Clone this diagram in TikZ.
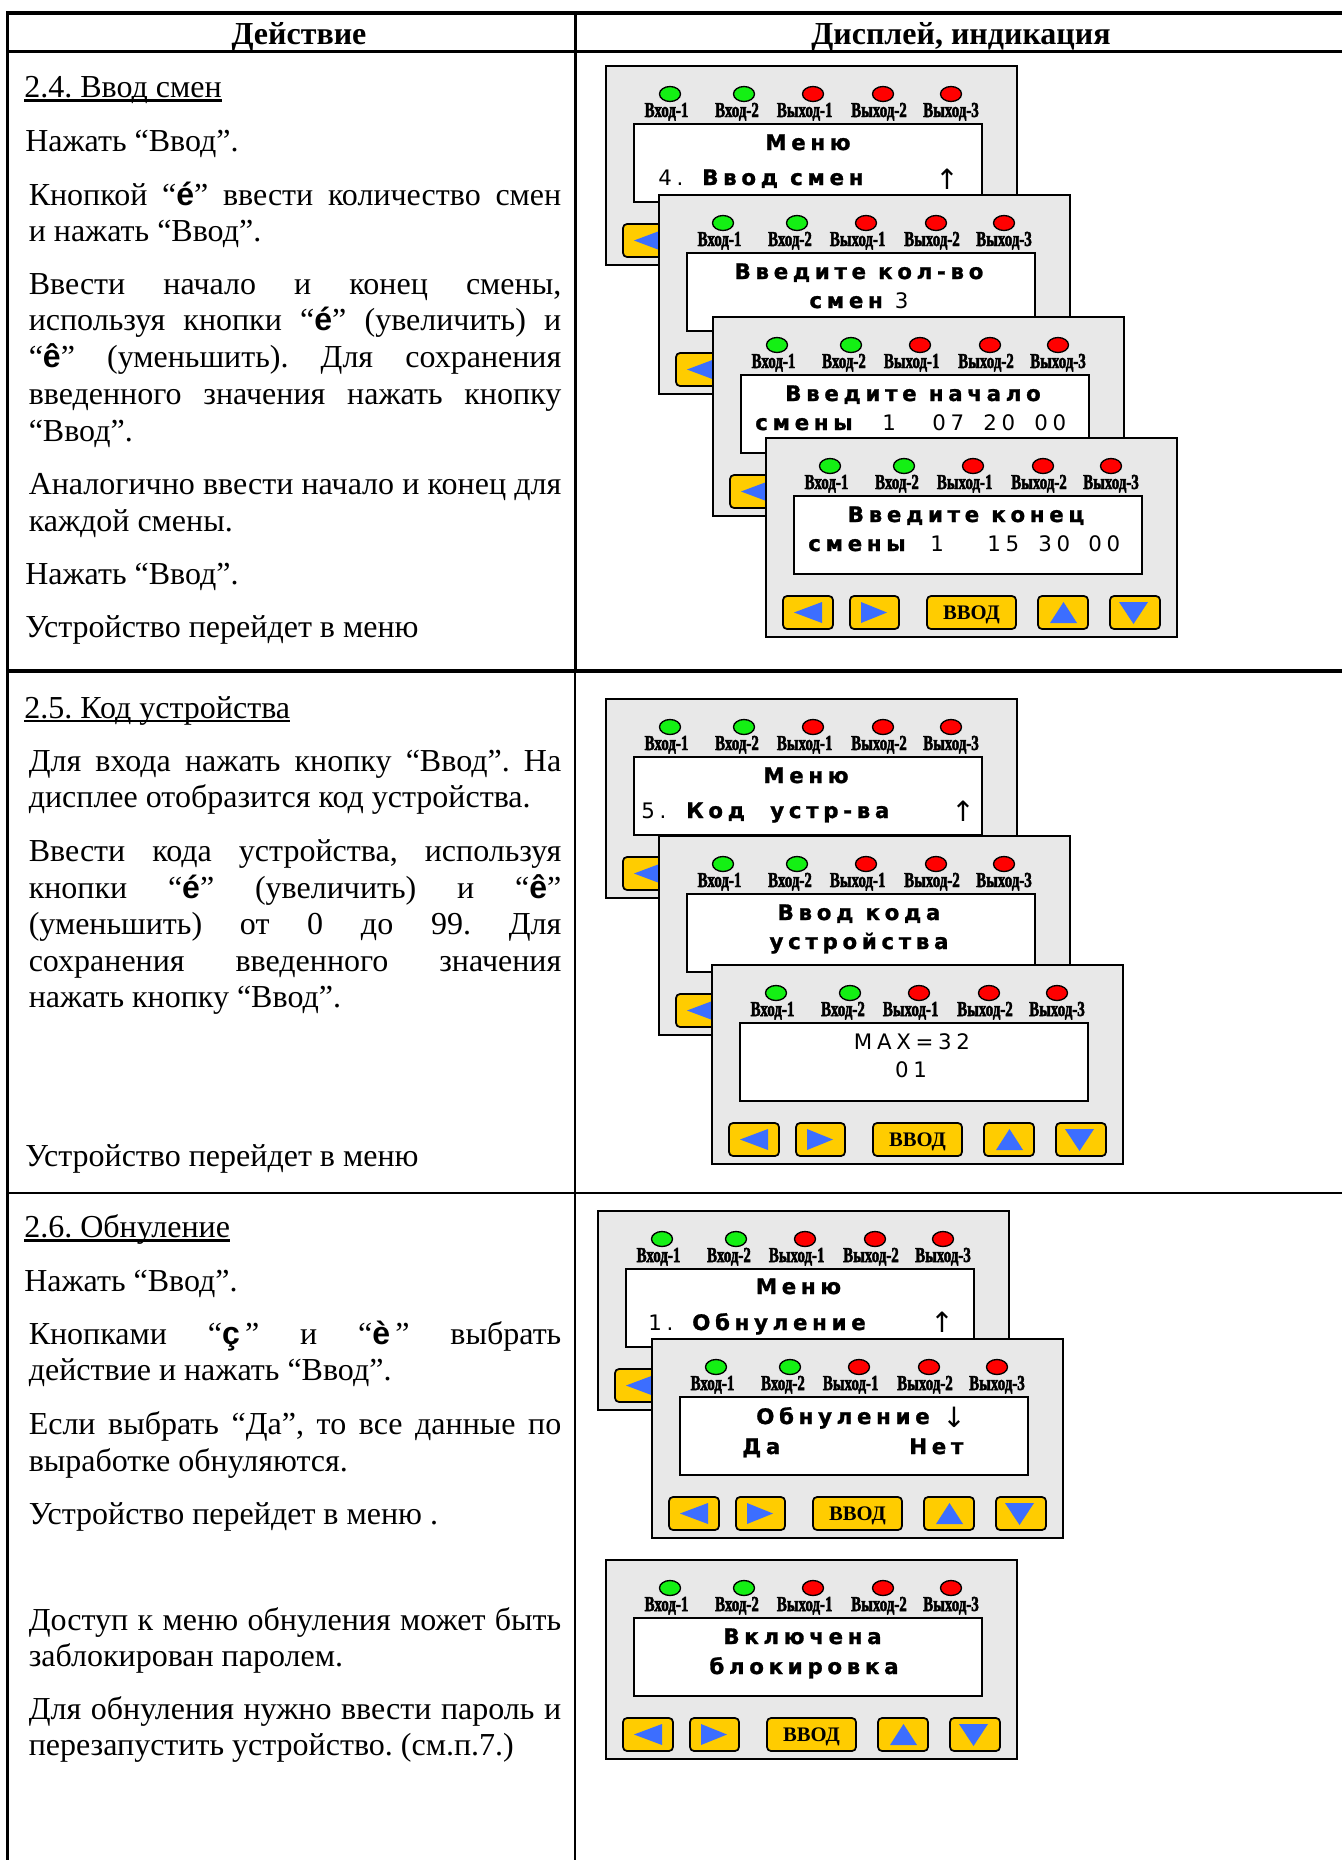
\documentclass[tikz,border=0pt]{standalone}
\usepackage{fontspec}
\setmainfont{Liberation Serif}
\newfontfamily\lcdfont[LetterSpace=22, BoldFeatures={FakeBold=1.2}]{DejaVu Sans}
\newfontfamily\ledfont[FakeStretch=0.7, FakeBold=2.2]{Liberation Serif Bold}
\newfontfamily\symfont{Liberation Sans}
\newfontfamily\arrfont{DejaVu Sans}
\definecolor{panelgray}{RGB}{232,232,232}
\definecolor{ledgreen}{RGB}{20,240,20}
\definecolor{ledred}{RGB}{255,0,0}
\definecolor{btnyellow}{RGB}{255,204,0}
\definecolor{btnblue}{RGB}{60,110,255}
\newcommand\sym[1]{{\symfont\bfseries #1}}
\tikzset{
  txt/.style={anchor=base west, inner sep=0pt, font=\frenchspacing\fontsize{24}{29}\selectfont},
  head/.style={anchor=base, inner sep=0pt, font=\bfseries\fontsize{24}{29}\selectfont},
  ledlbl/.style={anchor=base, inner sep=0pt, font=\ledfont\fontsize{16}{16}\selectfont},
  lcd/.style={anchor=base, inner sep=0pt, font=\lcdfont\bfseries\fontsize{16}{16}\selectfont},
  lcdw/.style={lcd, anchor=base west},
  arr/.style={anchor=center, inner sep=0pt, font=\arrfont\fontsize{21}{21}\selectfont},
  btnlbl/.style={anchor=base, inner sep=0pt, font=\bfseries\fontsize{15.5}{15.5}\selectfont},
  panelbody/.style={fill=panelgray, draw=black, line width=1.5pt},
  screenbox/.style={fill=white, draw=black, line width=1.8pt},
  btnbox/.style={fill=btnyellow, draw=black, line width=1.3pt, rounded corners=3pt},
  led/.style={draw=black, line width=1pt},
}
\newcommand\uline[1]{\draw[line width=1.6pt] ([yshift=-2.2pt]#1.base west) -- ([yshift=-2.2pt]#1.base east);}
\newcommand\jline[1]{\makebox[399.4pt][s]{#1}}
\newcommand\devpanel[3]{%
\begin{scope}[shift={(#1,#2)}]
  \path[panelbody] (0,0) rectangle (411,199);
  \foreach \cx/\col in {64/ledgreen,138/ledgreen,207/ledred,277/ledred,345/ledred}
    \path[led, fill=\col] (\cx,28) ellipse [x radius=10.5, y radius=7.5];
  \foreach \tx/\t in {60.5/Вход-1,131/Вход-2,198.7/Выход-1,273/Выход-2,345/Выход-3}
    \node[ledlbl] at (\tx,51) {\t};
  \path[screenbox] (28,58) rectangle (376,136);
  \foreach \a/\b in {17/67,84/133,161/250,272/322,344/394}
    \path[btnbox] (\a,158) rectangle (\b,191);
  \fill[btnblue] (28,174.5) -- (56,164) -- (56,185) -- cycle;
  \fill[btnblue] (121,174.5) -- (95,164) -- (95,185) -- cycle;
  \fill[btnblue] (297.5,164) -- (284,185) -- (311,185) -- cycle;
  \fill[btnblue] (367.5,186) -- (353,164) -- (382,164) -- cycle;
  \node[btnlbl] at (205.5,181) {ВВОД};
  #3
\end{scope}}
\begin{document}
\begin{tikzpicture}[x=0.75pt, y=-0.75pt]
\useasboundingbox[fill=white] (0,0) rectangle (1342,1860);
% ---------- table rules
\draw[line width=3pt] (6,13) -- (1342,13);
\draw[line width=2.2pt] (6,51.5) -- (1342,51.5);
\draw[line width=2.4pt] (7.5,12) -- (7.5,52);
\draw[line width=1.7pt] (7.5,52) -- (7.5,1860);
\draw[line width=1.7pt] (575.5,13) -- (575.5,52);
\draw[line width=2.5pt] (575.5,52) -- (575.5,671);
\draw[line width=1.5pt] (575.2,671) -- (575.2,1860);
\draw[line width=3pt] (6,671.3) -- (1342,671.3);
\draw[line width=1.7pt] (6,1193.2) -- (1342,1193.2);
% ---------- header
\node[head] (hA) at (299,44) {Действие};
\node[head] (hB) at (961,44) {Дисплей, индикация};
% ---------- row 1 text
\node[txt] (t24) at (24,97.5) {2.4. Ввод смен}; \uline{t24}
\node[txt] at (25,151.5) {Нажать “Ввод”.};
\node[txt] at (28.5,205.5) {\jline{Кнопкой “\sym{é}” ввести количество смен}};
\node[txt] at (28.5,241.5) {и нажать “Ввод”.};
\node[txt] at (28.5,294.5) {\jline{Ввести начало и конец смены,}};
\node[txt] at (28.5,330.5) {\jline{используя кнопки “\sym{é}” (увеличить) и}};
\node[txt] at (28.5,367.5) {\jline{“\sym{ê}” (уменьшить). Для сохранения}};
\node[txt] at (28.5,404.5) {\jline{введенного значения нажать кнопку}};
\node[txt] at (28.5,441.5) {“Ввод”.};
\node[txt] at (28.5,494.5) {\jline{Аналогично ввести начало и конец для}};
\node[txt] at (28.5,531.5) {каждой смены.};
\node[txt] at (25,584.5) {Нажать “Ввод”.};
\node[txt] at (25,637.5) {Устройство перейдет в меню};
% ---------- row 2 text
\node[txt] (t25) at (24,718) {2.5. Код устройства}; \uline{t25}
\node[txt] at (28.5,771.5) {\jline{Для входа нажать кнопку “Ввод”. На}};
\node[txt] at (28.5,807.5) {дисплее отобразится код устройства.};
\node[txt] at (28.5,861.5) {\jline{Ввести кода устройства, используя}};
\node[txt] at (28.5,898.5) {\jline{кнопки “\sym{é}” (увеличить) и “\sym{ê}”}};
\node[txt] at (28.5,934.5) {\jline{(уменьшить) от 0 до 99. Для}};
\node[txt] at (28.5,971.5) {\jline{сохранения введенного значения}};
\node[txt] at (28.5,1007.5) {нажать кнопку “Ввод”.};
\node[txt] at (25,1166.5) {Устройство перейдет в меню};
% ---------- row 3 text
\node[txt] (t26) at (24,1237.5) {2.6. Обнуление}; \uline{t26}
\node[txt] at (24,1291.5) {Нажать “Ввод”.};
\node[txt] at (28.5,1344.5) {\jline{Кнопками “\sym{ç}\,” и “\sym{è}\,” выбрать}};
\node[txt] at (28.5,1380.5) {действие и нажать “Ввод”.};
\node[txt] at (28.5,1434.5) {\jline{Если выбрать “Да”, то все данные по}};
\node[txt] at (28.5,1471.5) {выработке обнуляются.};
\node[txt] at (28.5,1524.5) {Устройство перейдет в меню .};
\node[txt] at (28.5,1630.5) {\jline{Доступ к меню обнуления может быть}};
\node[txt] at (28.5,1666.5) {заблокирован паролем.};
\node[txt] at (28.5,1719.5) {\jline{Для обнуления нужно ввести пароль и}};
\node[txt] at (28.5,1755.5) {перезапустить устройство. (см.п.7.)};
% ---------- row 1 panels
\devpanel{606}{66}{
  \node[lcd] at (202,84) {Меню};
  \node[lcdw] at (52,119) {\mdseries 4.};
  \node[lcdw] at (96,119) {Ввод смен};
  \node[arr] at (341,113.5) {↑};
}
\devpanel{659}{195}{
  \node[lcd] at (200,84) {Введите кол-во};
  \node[lcd] at (200,113) {смен \mdseries 3};
}
\devpanel{713}{317}{
  \node[lcd] at (200,84) {Введите начало};
  \node[lcdw] at (42,113) {смены};
  \node[lcdw] at (169,113) {\mdseries 1};
  \node[lcdw] at (219,113) {\mdseries 07};
  \node[lcdw] at (270,113) {\mdseries 20};
  \node[lcdw] at (321,113) {\mdseries 00};
}
\devpanel{766}{438}{
  \node[lcd] at (200,84) {Введите конец};
  \node[lcdw] at (42,113) {смены};
  \node[lcdw] at (164,113) {\mdseries 1};
  \node[lcdw] at (221,113) {\mdseries 15};
  \node[lcdw] at (272,113) {\mdseries 30};
  \node[lcdw] at (322,113) {\mdseries 00};
}
% ---------- row 2 panels
\devpanel{606}{699}{
  \node[lcd] at (200,84) {Меню};
  \node[lcdw] at (35,119) {\mdseries 5.};
  \node[lcdw] at (80,119) {Код};
  \node[lcdw] at (164,119) {устр-ва};
  \node[arr] at (357,112.5) {↑};
}
\devpanel{659}{836}{
  \node[lcd] at (200,84) {Ввод кода};
  \node[lcd] at (200,113) {устройства};
}
\devpanel{712}{965}{
  \node[lcd] at (200,84) {\mdseries MAX=32};
  \node[lcd] at (199,112) {\mdseries 01};
}
% ---------- row 3 panels
\devpanel{598}{1211}{
  \node[lcd] at (200.5,83) {Меню};
  \node[lcdw] at (50,119) {\mdseries 1.};
  \node[lcdw] at (94,119) {Обнуление};
  \node[arr] at (344,111.5) {↑};
}
\devpanel{652}{1339}{
  \node[lcdw] at (104,85) {Обнуление};
  \node[arr] at (302,78.5) {↓};
  \node[lcdw] at (90,115) {Да};
  \node[lcdw] at (257,115) {Нет};
}
\devpanel{606}{1560}{
  \node[lcd] at (196.5,84) {Включена};
  \node[lcd] at (198,114) {блокировка};
}
\end{tikzpicture}
\end{document}
